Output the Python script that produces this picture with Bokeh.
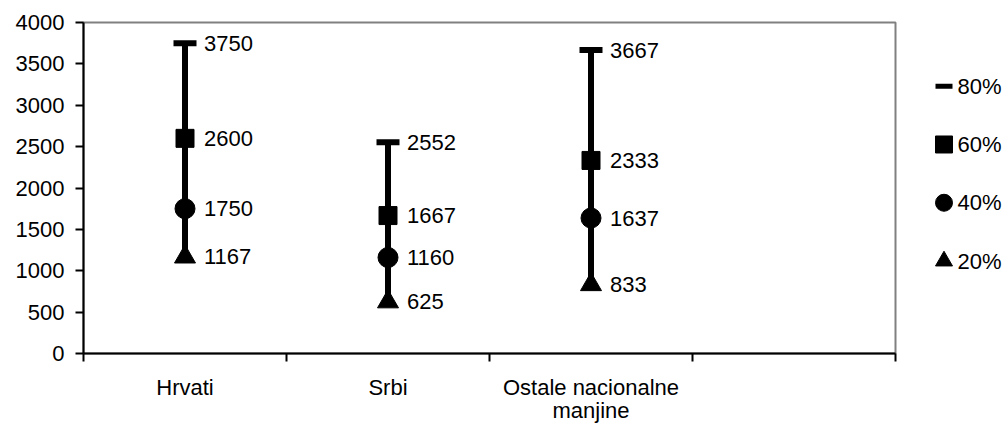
from bokeh.plotting import figure
from bokeh.models import ColumnDataSource, Range1d, FixedTicker
from bokeh.layouts import row
from bokeh.core.properties import value
from bokeh.embed import file_html
from bokeh.resources import INLINE

# ---- data ----
categories = ["Hrvati", "Srbi", "Ostale nacionalne\nmanjine"]
n_slots = 4
p20 = [1167, 625, 833]
p40 = [1750, 1160, 1637]
p60 = [2600, 1667, 2333]
p80 = [3750, 2552, 3667]
y_ticks = [0, 500, 1000, 1500, 2000, 2500, 3000, 3500, 4000]
legend_labels = ["80%", "60%", "40%", "20%"]
legend_markers = ["dash", "square", "circle", "triangle"]

FONT = "Liberation Sans"
FS = "22px"

xs = [i + 0.5 for i in range(len(categories))]

p = figure(width=905, height=426, output_backend="svg", toolbar_location=None,
           x_range=Range1d(0, n_slots), y_range=Range1d(0, 4000),
           min_border_left=83, min_border_right=10, min_border_top=22, min_border_bottom=72)
p.xgrid.visible = False
p.ygrid.visible = False
p.outline_line_color = "#808080"
p.outline_line_width = 2
p.background_fill_color = "white"
p.border_fill_color = "white"

# y axis
ya = p.yaxis[0]
ya.ticker = FixedTicker(ticks=y_ticks, minor_ticks=[])
ya.major_tick_out = 8
ya.major_tick_in = 0
ya.major_tick_line_width = 2
ya.major_tick_line_color = "black"
ya.axis_line_width = 2
ya.axis_line_color = "black"
ya.major_label_standoff = 11
ya.major_label_text_font = FONT
ya.major_label_text_font_size = FS
ya.major_label_text_color = "black"

# x axis
xa = p.xaxis[0]
xa.ticker = FixedTicker(ticks=xs, minor_ticks=list(range(n_slots + 1)))
xa.major_tick_out = 0
xa.major_tick_in = 0
xa.major_tick_line_color = None
xa.minor_tick_out = 8
xa.minor_tick_in = 0
xa.minor_tick_line_width = 2
xa.minor_tick_line_color = "black"
xa.axis_line_width = 2
xa.axis_line_color = "black"
xa.major_label_overrides = {x: c for x, c in zip(xs, categories)}
xa.major_label_standoff = 13
xa.major_label_text_font = FONT
xa.major_label_text_font_size = FS
xa.major_label_text_color = "black"
xa.major_label_text_line_height = 0.95

src = ColumnDataSource(dict(x=xs, p20=p20, p40=p40, p60=p60, p80=p80))

p.segment(x0="x", y0="p20", x1="x", y1="p80", source=src, line_width=6, line_color="black")
p.scatter(x="x", y="p80", source=src, marker="dash", size=23, line_width=6, line_color="black")
p.scatter(x="x", y="p60", source=src, marker="square", size=18, fill_color="black", line_color="black")
p.scatter(x="x", y="p40", source=src, marker="circle", size=20, fill_color="black", line_color="black")
p.scatter(x="x", y="p20", source=src, marker="triangle", size=21, fill_color="black", line_color="black")

lx, ly, lt = [], [], []
for series in (p20, p40, p60, p80):
    for x, v in zip(xs, series):
        lx.append(x)
        ly.append(v)
        lt.append(str(v))
p.text(x=lx, y=ly, text=lt, x_offset=19, text_align="left", text_baseline="middle",
       text_font=value(FONT), text_font_size=FS, text_color="black")

# legend panel
lg = figure(width=101, height=426, output_backend="svg", toolbar_location=None,
            x_range=Range1d(0, 101), y_range=Range1d(426, 0), min_border=0)
lg.axis.visible = False
lg.xgrid.visible = False
lg.ygrid.visible = False
lg.outline_line_color = None
leg_y = [82, 157, 232, 307]
for m, yy in zip(legend_markers, leg_y):
    if m == "dash":
        lg.scatter(x=[38.5], y=[yy], marker="dash", size=17, line_width=5, line_color="black")
    else:
        lg.scatter(x=[38.5], y=[yy], marker=m, size=17, fill_color="black", line_color="black")
lg.text(x=[52] * 4, y=leg_y, text=legend_labels, text_align="left", text_baseline="middle",
        text_font=value(FONT), text_font_size=FS, text_color="black")

layout = row(p, lg)
open("out.html", "w").write(file_html(layout, INLINE))
